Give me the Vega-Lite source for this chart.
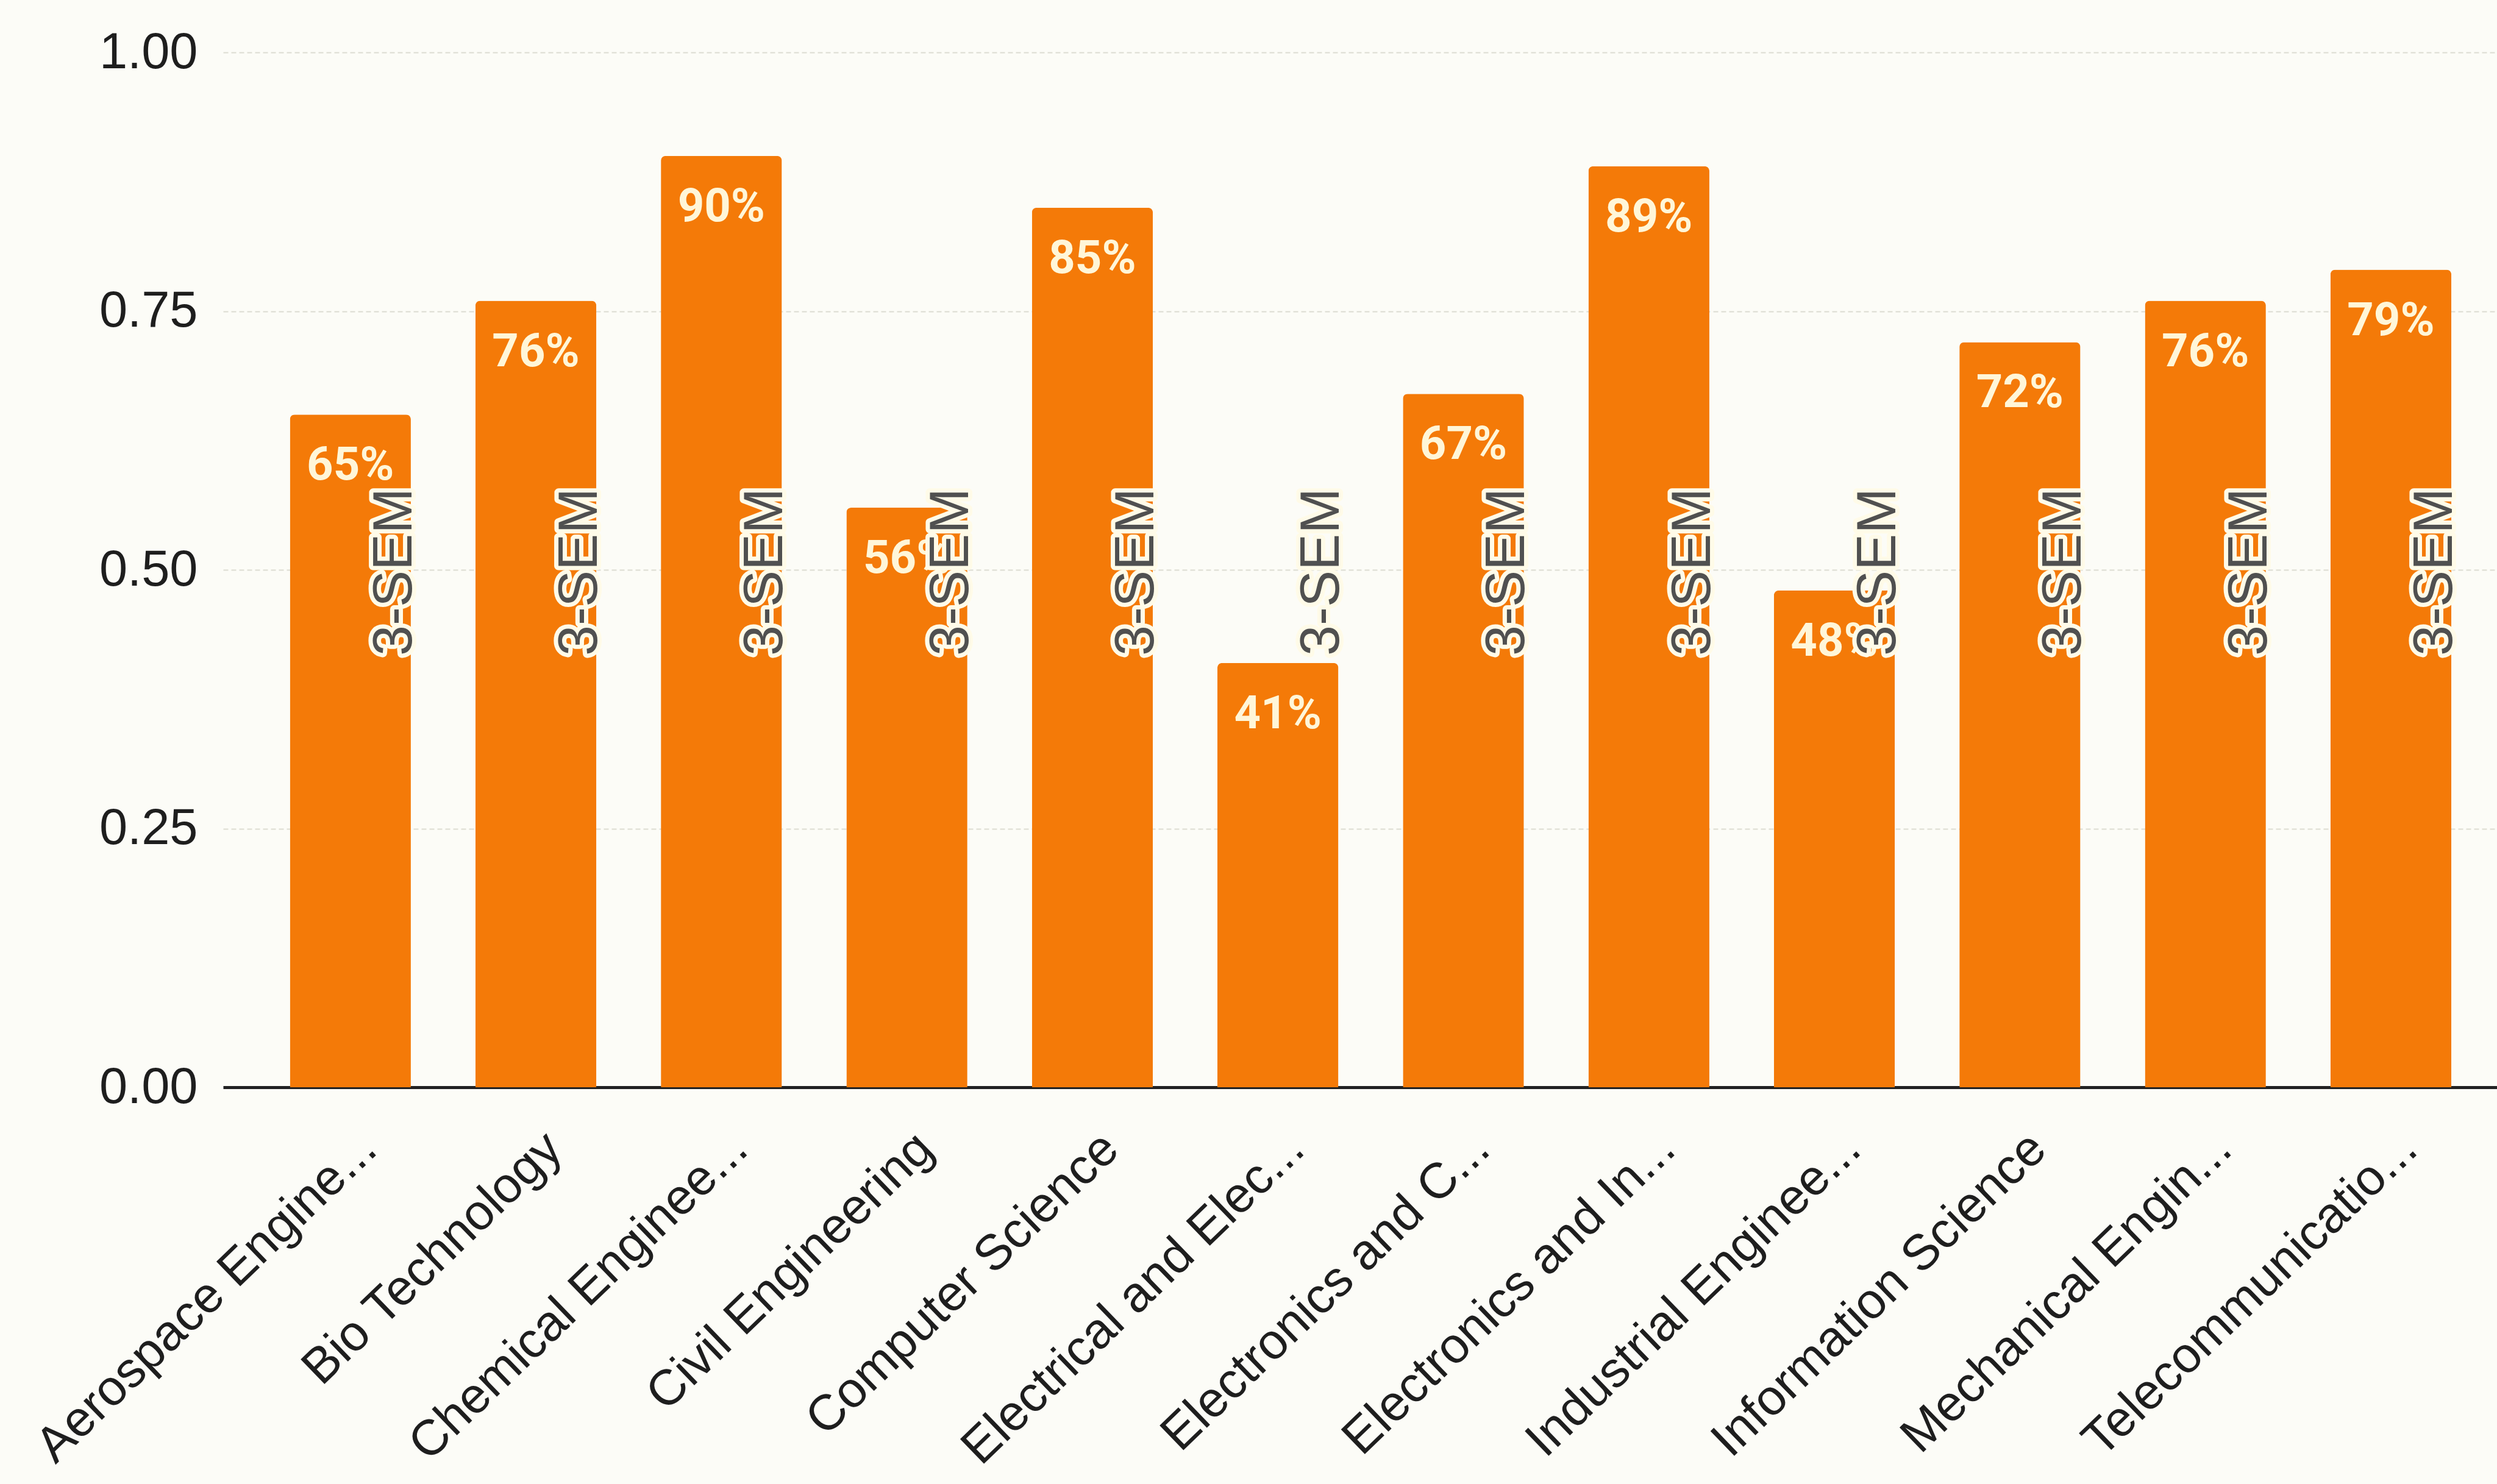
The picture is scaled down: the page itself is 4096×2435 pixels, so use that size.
{
  "$schema": "https://vega.github.io/schema/vega-lite/v6.json",
  "width": 3730,
  "height": 1698,
  "autosize": "none",
  "padding": {"left": 366, "top": 86, "right": 0, "bottom": 651},
  "background": "#fcfcf7",
  "config": {"view": {"stroke": null}},
  "data": {
    "values": [
      {"dept": "Aerospace Engine...", "rate": 0.65, "sem": "3-SEM"},
      {"dept": "Bio Technology", "rate": 0.76, "sem": "3-SEM"},
      {"dept": "Chemical Enginee...", "rate": 0.90, "sem": "3-SEM"},
      {"dept": "Civil Engineering", "rate": 0.56, "sem": "3-SEM"},
      {"dept": "Computer Science", "rate": 0.85, "sem": "3-SEM"},
      {"dept": "Electrical and Elec...", "rate": 0.41, "sem": "3-SEM"},
      {"dept": "Electronics and C...", "rate": 0.67, "sem": "3-SEM"},
      {"dept": "Electronics and In...", "rate": 0.89, "sem": "3-SEM"},
      {"dept": "Industrial Enginee...", "rate": 0.48, "sem": "3-SEM"},
      {"dept": "Information Science", "rate": 0.72, "sem": "3-SEM"},
      {"dept": "Mechanical Engin...", "rate": 0.76, "sem": "3-SEM"},
      {"dept": "Telecommunicatio...", "rate": 0.79, "sem": "3-SEM"}
    ]
  },
  "encoding": {
    "x": {
      "field": "dept",
      "type": "nominal",
      "sort": null,
      "scale": {"paddingInner": 0.348, "paddingOuter": 0.303, "align": 0.594},
      "axis": {
        "title": null,
        "labelAngle": -44,
        "labelAlign": "right",
        "labelBaseline": "middle",
        "labelFontSize": 82,
        "labelFont": "Liberation Sans",
        "labelColor": "#1e1e1e",
        "ticks": false,
        "domainColor": "#222222",
        "domainWidth": 5,
        "labelPadding": 88,
        "labelOffset": 30,
        "labelLimit": 0
      }
    }
  },
  "layer": [
    {
      "mark": {"type": "bar", "color": "#F47A08", "cornerRadiusTopLeft": 8, "cornerRadiusTopRight": 8},
      "encoding": {
        "y": {
          "field": "rate",
          "type": "quantitative",
          "scale": {"domain": [0, 1]},
          "axis": {
            "title": null,
            "values": [0, 0.25, 0.5, 0.75, 1],
            "format": ".2f",
            "labelFontSize": 83,
            "labelFont": "Liberation Sans",
            "labelColor": "#1e1e1e",
            "labelPadding": 42,
            "domain": false,
            "ticks": false,
            "grid": true,
            "gridColor": "#dcdcd2",
            "gridWidth": 2,
            "gridDash": [8, 5]
          }
        }
      }
    },
    {
      "mark": {"type": "text", "color": "#FFF6D8", "fontSize": 76, "fontWeight": "bold", "font": "Roboto", "baseline": "middle", "dy": 84},
      "encoding": {
        "y": {"field": "rate", "type": "quantitative"},
        "text": {"field": "rate", "type": "quantitative", "format": ".0%"}
      }
    },
    {
      "mark": {"type": "text", "angle": 270, "align": "left", "baseline": "alphabetic", "fontSize": 90, "font": "Liberation Sans", "fill": "#fffbe8", "stroke": "#fffbe8", "strokeWidth": 14, "strokeJoin": "round", "xOffset": 100},
      "encoding": {
        "y": {"datum": 0.417, "type": "quantitative"},
        "text": {"field": "sem"}
      }
    },
    {
      "mark": {"type": "text", "angle": 270, "align": "left", "baseline": "alphabetic", "fontSize": 90, "font": "Liberation Sans", "color": "#505050", "xOffset": 100},
      "encoding": {
        "y": {"datum": 0.417, "type": "quantitative"},
        "text": {"field": "sem"}
      }
    }
  ]
}
